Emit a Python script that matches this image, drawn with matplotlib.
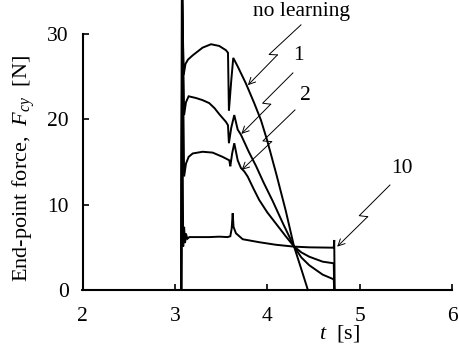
import matplotlib
matplotlib.use("Agg")
import matplotlib.pyplot as plt

plt.rcParams["font.family"] = ["Liberation Serif", "DejaVu Serif"]
plt.rcParams["mathtext.fontset"] = "custom"
plt.rcParams["mathtext.rm"] = "Liberation Serif"
plt.rcParams["mathtext.it"] = "Liberation Serif:italic"

# End-point force traces, F_cy [N] against time t [s]
t_nolearn = [2.0, 3.07, 3.08, 3.095, 3.115, 3.142, 3.193, 3.30, 3.391, 3.48, 3.553,
             3.575, 3.585, 3.61, 3.632, 3.68, 3.769, 3.859, 3.932, 4.00, 4.10,
             4.20, 4.29, 4.37, 4.44]
F_nolearn = [0, 0, 34, 25.2, 26.5, 27.0, 27.5, 28.4, 28.8, 28.6, 28.1,
             27.8, 21.0, 24.5, 27.2, 26.2, 24.2, 21.9, 19.9, 17.5, 13.5,
             9.3, 5.1, 2.4, 0]

t_trial1 = [2.0, 3.07, 3.08, 3.10, 3.12, 3.149, 3.228, 3.30, 3.372, 3.43, 3.481, 3.553, 3.575,
            3.585, 3.61, 3.643, 3.68, 3.715, 3.80, 3.88, 3.96, 4.06, 4.17,
            4.29, 4.37, 4.455, 4.60, 4.72, 4.725, 6.0]
F_trial1 = [0, 0, 34, 20.5, 22.0, 22.7, 22.5, 22.25, 21.9, 21.3, 20.6, 19.7, 19.3,
            17.2, 19.0, 20.5, 18.8, 18.2, 16.2, 14.5, 12.6, 10.4, 7.8,
            5.1, 3.8, 2.9, 1.8, 1.25, 0, 0]

t_trial2 = [2.0, 3.07, 3.08, 3.10, 3.12, 3.149, 3.193, 3.301, 3.409, 3.517, 3.589,
            3.60, 3.62, 3.643, 3.68, 3.715, 3.751, 3.788, 3.85, 3.913, 4.00,
            4.10, 4.20, 4.29, 4.37, 4.455, 4.60, 4.72, 4.725, 6.0]
F_trial2 = [0, 0, 34, 13.3, 14.8, 15.6, 16.0, 16.2, 16.1, 15.6, 15.2,
            14.5, 16.0, 17.2, 15.2, 14.3, 13.9, 13.3, 11.9, 10.55, 9.1,
            7.7, 6.3, 5.1, 4.4, 3.9, 3.32, 3.13, 0, 0]

t_trial10 = [2.0, 3.066, 3.075, 3.09, 3.10, 3.11, 3.12, 3.135, 3.156, 3.372, 3.481,
             3.571, 3.60, 3.615, 3.626, 3.635, 3.661, 3.734, 3.913, 4.094, 4.292,
             4.455, 4.708, 4.72, 4.725, 4.73, 6.0]
F_trial10 = [0, 0, 34, 5.1, 7.4, 5.5, 6.6, 6.0, 6.2, 6.2, 6.25,
             6.2, 6.3, 7.2, 9.0, 7.4, 6.65, 5.95, 5.6, 5.3, 5.08,
             5.0, 4.96, 4.96, 5.86, 0, 0]

x_ticks = [2, 3, 4, 5, 6]
y_ticks = [0, 10, 20, 30]

# Zig-zag leader lines: start, jog left end, jog right end, arrow tip
leaders = {
    "no learning": dict(text=(4.37, 32.6),
                        path=[(4.365, 31.07), (4.02, 27.6), (4.11, 27.55), (3.79, 24.0)]),
    "1": dict(text=(4.343, 27.5),
              path=[(4.278, 25.44), (3.95, 21.89), (4.037, 21.77), (3.72, 18.29)]),
    "2": dict(text=(4.408, 22.8),
              path=[(4.30, 21.1), (3.953, 17.47), (4.048, 17.39), (3.723, 14.07)]),
    "10": dict(text=(5.458, 14.24),
               path=[(5.328, 12.3), (4.996, 8.71), (5.087, 8.59), (4.757, 5.08)]),
}

fig = plt.figure(figsize=(4.59, 3.51), dpi=100)
ax = fig.add_axes([82.5 / 459, 1 - 290 / 351, (452 - 82.5) / 459, (290 - 34) / 351])

for t, F in [(t_nolearn, F_nolearn), (t_trial1, F_trial1),
             (t_trial2, F_trial2), (t_trial10, F_trial10)]:
    ax.plot(t, F, color="black", lw=1.4, clip_on=False, solid_joinstyle="miter")

for label, spec in leaders.items():
    p = spec["path"]
    ax.plot([p[0][0], p[1][0], p[2][0]], [p[0][1], p[1][1], p[2][1]],
            color="black", lw=0.7, clip_on=False)
    ax.annotate("", xy=p[3], xytext=p[2],
                arrowprops=dict(arrowstyle="->", lw=0.7, color="black",
                                shrinkA=0, shrinkB=0, mutation_scale=12),
                annotation_clip=False)
    ax.text(spec["text"][0], spec["text"][1], label, ha="center", va="center",
            fontsize=15.5, clip_on=False)

ax.set_xlim(2, 6)
ax.set_ylim(0, 30)
ax.set_xticks(x_ticks)
ax.set_yticks(y_ticks)
ax.tick_params(direction="in", length=4.5, width=1.2, labelsize=15.5)
ax.tick_params(axis="x", pad=12)
ax.tick_params(axis="y", pad=10)
for side in ("top", "right"):
    ax.spines[side].set_visible(False)
for side in ("left", "bottom"):
    ax.spines[side].set_linewidth(1.5)

ax.set_ylabel(r"End-point force,  $F_{cy}$  [N]", fontsize=16)
ax.yaxis.set_label_coords(-0.123, 0.475)
ax.set_xlabel(r"$t$  [s]", fontsize=16)
ax.xaxis.set_label_coords(0.697, -0.13)

fig.savefig("out.png", dpi=100)
